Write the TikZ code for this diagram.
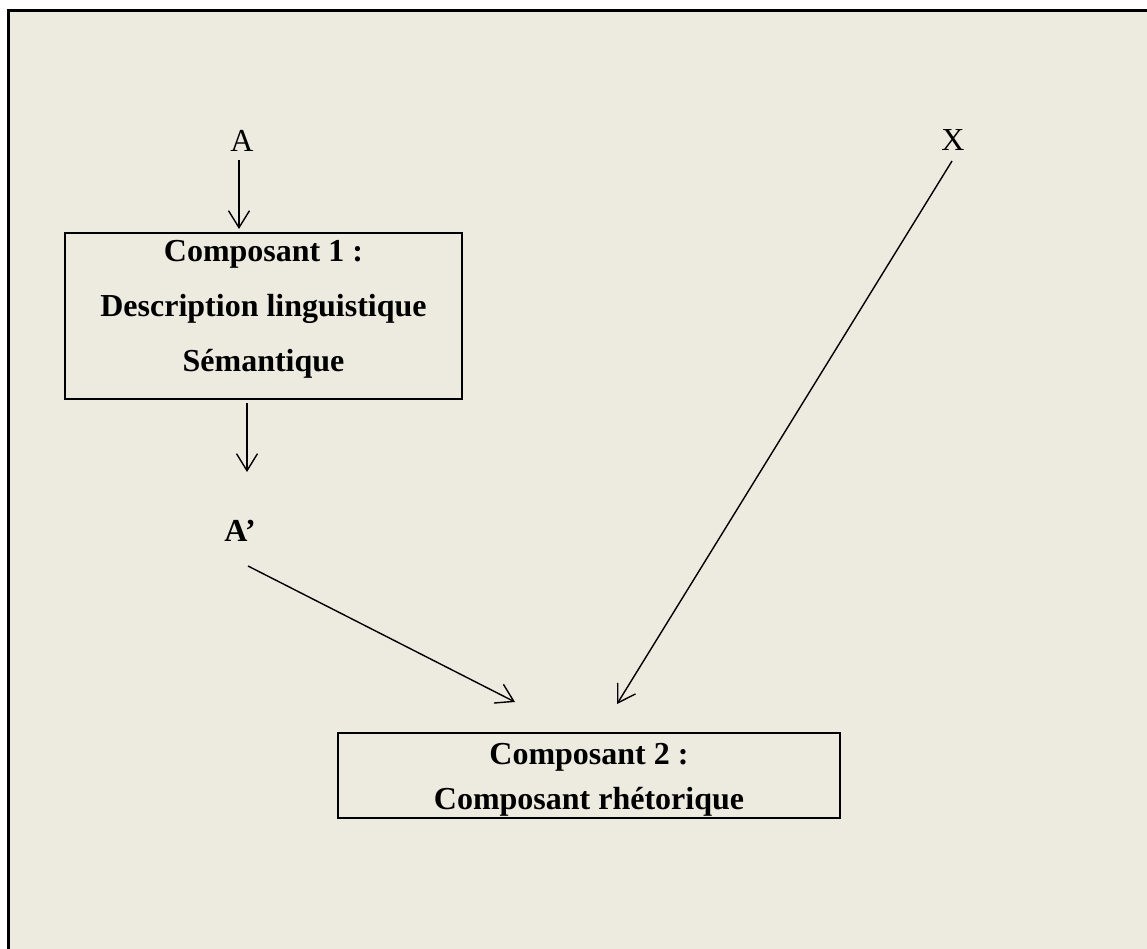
\documentclass[tikz,border=0pt]{standalone}
\usepackage{fontspec}
\setmainfont{Liberation Serif}
\usetikzlibrary{arrows.meta}
\definecolor{paper}{RGB}{237,234,224}
\begin{document}
\begin{tikzpicture}[x=1pt,y=-1pt,
  compbox/.style={draw=black, line width=1.6pt, rectangle, align=center,
    font=\fontsize{32}{55}\selectfont\bfseries, inner sep=0pt},
  lbl/.style={font=\fontsize{32}{38}\selectfont, inner sep=0pt},
  flow/.style={line width=1.4pt, -{Straight Barb[length=17pt,width=21pt,line width=1.4pt]}}]
  \useasboundingbox (0,0) rectangle (1147,949);
  \clip (0,0) rectangle (1147,949);
  % framed page background
  \filldraw[fill=paper, draw=black, line width=3pt] (8,11) rectangle (1170,975);

  % components
  \node[compbox, minimum width=397pt, minimum height=166pt] (c1) at (263.5,316)
    {Composant 1 :\\Description linguistique\\Sémantique\rule[-20pt]{0pt}{20pt}};
  \node[compbox, minimum width=502pt, minimum height=85pt,
    font=\fontsize{32}{45}\selectfont\bfseries] (c2) at (589,775.5)
    {\rule{0pt}{30pt}Composant 2 :\\Composant rhétorique};

  % inputs and intermediate result
  \node[lbl, anchor=base] (a) at (242,152) {A};
  \node[lbl, anchor=base] (x) at (953,151) {X};
  \node[lbl, anchor=base, font=\fontsize{32}{38}\selectfont\bfseries] (ap) at (240,541) {A’};

  % connector end points
  \coordinate (c1in) at (239,229);
  \coordinate (c1out) at (247,403);
  \coordinate (apin) at (247,472);
  \coordinate (apout) at (248,566);
  \coordinate (c2inA) at (515,702);
  \coordinate (xout) at (952,161);
  \coordinate (c2inX) at (617,704);

  \draw[flow] (a.south -| c1in) ++(0,8) -- (c1in);
  \draw[flow] (c1out) -- (apin);
  \draw[flow] (apout) -- (c2inA);
  \draw[flow] (xout) -- (c2inX);
\end{tikzpicture}
\end{document}
